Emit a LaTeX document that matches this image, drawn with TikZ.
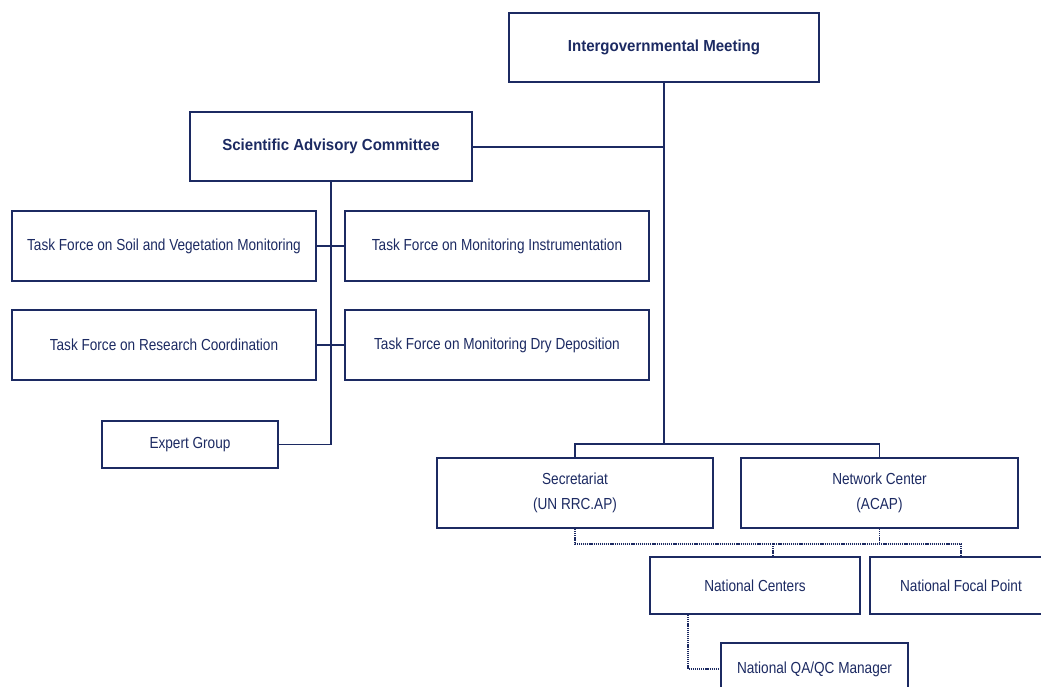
\documentclass[tikz,border=0pt]{standalone}
\usepackage{fontspec}
\setmainfont[FakeStretch=0.85]{Liberation Sans}
\newfontfamily\bfam[FakeStretch=0.94]{Liberation Sans}
\definecolor{navy}{RGB}{28,42,98}
\tikzset{
  box/.style={draw=navy, line width=1.8pt, text=navy, inner sep=0pt, align=center, font=\fontsize{16}{24}\selectfont},
  boldbox/.style={box, font=\fontsize{16}{24}\selectfont\bfam\bfseries},
  conn/.style={draw=navy, line width=1.8pt},
  dconn/.style={draw=navy, line width=1.3pt, dash pattern=on 1.2pt off 0.9pt},
}
\begin{document}
\begin{tikzpicture}[x=1pt,y=-1pt]
\useasboundingbox (0,0) rectangle (1041,686);
\node[boldbox, minimum width=310pt, minimum height=69pt] (igm) at (664,47.5) {Intergovernmental Meeting};
\node[boldbox, minimum width=282pt, minimum height=69pt] (sac) at (331,146.5) {Scientific Advisory Committee};
\node[box, minimum width=304pt, minimum height=70pt] (tfsoil) at (164,246) {Task Force on Soil and Vegetation Monitoring};
\node[box, minimum width=304pt, minimum height=70pt] (tfinst) at (497,246) {Task Force on Monitoring Instrumentation};
\node[box, minimum width=304pt, minimum height=70pt] (tfres) at (164,345) {Task Force on Research Coordination};
\node[box, minimum width=304pt, minimum height=70pt] (tfdry) at (497,345) {Task Force on Monitoring Dry Deposition};
\node[box, minimum width=176pt, minimum height=47pt] (expert) at (190,444.5) {Expert Group};
\node[box, minimum width=276pt, minimum height=70pt] (sec) at (575,493) {Secretariat\\[1pt](UN RRC.AP)};
\node[box, minimum width=277pt, minimum height=70pt] (net) at (879.5,493) {Network Center\\[1pt](ACAP)};
\node[box, minimum width=210pt, minimum height=57pt] (natc) at (755,585.5) {National Centers};
\node[box, minimum width=182pt, minimum height=57pt] (nfp) at (961,585.5) {National Focal Point};
\node[box, minimum width=187pt, minimum height=57pt] (qaqc) at (814.5,671.5) {};
\node[text=navy, font=\fontsize{16}{24}\selectfont] (qaqct) at (814.5,669) {National QA/QC Manager};
% solid connectors
\coordinate (bus) at (664,444);
\draw[conn] (igm.south) -- (bus);
\draw[conn] (sec.north) |- (bus) -| (net.north);
\draw[conn] ([yshift=-0.5pt]sac.east) -- ([yshift=-0.5pt]sac.east -| igm.south);
\draw[conn] (sac.south) |- (expert.east);
\draw[conn] (tfsoil.east) -- (tfinst.west);
\draw[conn] (tfres.east) -- (tfdry.west);
% dotted connectors
\coordinate (dbus) at (773,544);
\draw[dconn] (sec.south) |- (dbus) -| (nfp.north);
\draw[dconn] (net.south) -- (net.south |- dbus);
\draw[dconn] (dbus) -- (natc.north -| dbus);
\draw[dconn] ([xshift=-67pt]natc.south) |- (qaqc.west |- qaqct);
\end{tikzpicture}
\end{document}
